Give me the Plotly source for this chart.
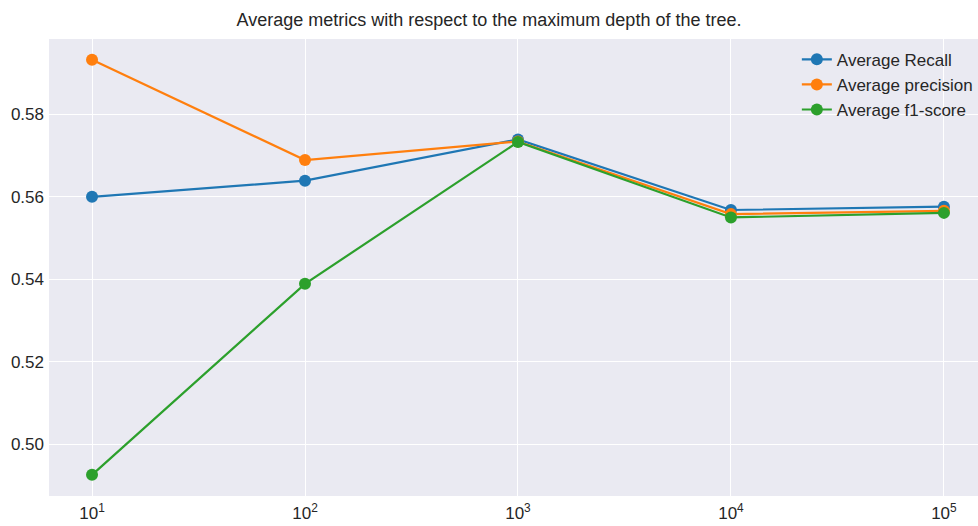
import plotly.graph_objects as go

depths = [10, 100, 1000, 10000, 100000]
recall = [0.5600, 0.5639, 0.5739, 0.5568, 0.5576]
precision = [0.5932, 0.5689, 0.5734, 0.5558, 0.5566]
f1 = [0.4926, 0.5389, 0.5733, 0.5550, 0.5561]
x_tick_labels = ["10<sup>1</sup>", "10<sup>2</sup>", "10<sup>3</sup>", "10<sup>4</sup>", "10<sup>5</sup>"]
y_ticks = [0.50, 0.52, 0.54, 0.56, 0.58]

series = [
    ("Average Recall", recall, "#1f77b4"),
    ("Average precision", precision, "#ff7f0e"),
    ("Average f1-score", f1, "#2ca02c"),
]

fig = go.Figure()
for name, vals, color in series:
    fig.add_trace(go.Scatter(
        x=depths, y=vals, name=name, mode="lines+markers",
        line=dict(color=color, width=2.2),
        marker=dict(color=color, size=12),
    ))

fig.update_layout(
    width=978, height=526,
    margin=dict(l=49, r=0, t=39, b=30, autoexpand=False),
    paper_bgcolor="white", plot_bgcolor="#EAEAF2",
    font=dict(family="Liberation Sans", size=17, color="#262626"),
    title=dict(text="Average metrics with respect to the maximum depth of the tree.",
               x=0.5, xanchor="center", y=0.962, yanchor="middle",
               font=dict(size=18, color="#262626")),
    showlegend=True,
    legend=dict(x=0.805, y=0.994, xanchor="left", yanchor="top",
                bgcolor="rgba(0,0,0,0)", font=dict(size=17),
                tracegroupgap=0),
    xaxis=dict(type="log", range=[0.798, 5.16], tickmode="array",
               tickvals=depths, ticktext=x_tick_labels, automargin=False,
               ticklabelstandoff=5,
               showgrid=True, gridcolor="white", gridwidth=1.2,
               zeroline=False, showline=False, ticks="", ticklen=0),
    yaxis=dict(range=[0.48747, 0.59825], tickmode="array",
               tickvals=y_ticks, ticktext=[f"{v:.2f}" for v in y_ticks],
               automargin=False, ticklabelstandoff=4,
               showgrid=True, gridcolor="white", gridwidth=1.2,
               zeroline=False, showline=False, ticks="", ticklen=0),
)

fig.write_html("out.html", config={"displayModeBar": False},
               post_script="document.body.style.margin='0';document.body.style.overflow='hidden';")
